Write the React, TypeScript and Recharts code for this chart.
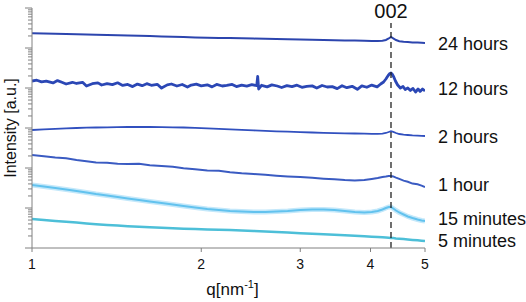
import React from 'react';
import { LineChart, Line, XAxis, YAxis, ReferenceLine, Label } from 'recharts';

const FONT = '"Liberation Sans", Arial, Helvetica, sans-serif';

// q values [nm^-1] shared by the smooth curves
const Q = [
  1.0, 1.05, 1.1, 1.15, 1.2, 1.25, 1.3, 1.36, 1.42, 1.48,
  1.55, 1.62, 1.7, 1.78, 1.86, 1.95, 2.05, 2.15, 2.25, 2.36,
  2.48, 2.6, 2.72, 2.85, 3.0, 3.15, 3.3, 3.45, 3.6, 3.75,
  3.9, 4.02, 4.12, 4.2, 4.26, 4.31, 4.35, 4.39, 4.44, 4.5,
  4.58, 4.66, 4.75, 4.85, 4.93, 5.0,
];

// q values for the noisy 12 hours curve
const Q12 = [
  1.0, 1.02, 1.04, 1.06, 1.09, 1.11, 1.13, 1.15, 1.18, 1.2,
  1.23, 1.25, 1.28, 1.31, 1.33, 1.36, 1.39, 1.42, 1.45, 1.48,
  1.51, 1.54, 1.57, 1.6, 1.63, 1.67, 1.7, 1.74, 1.77, 1.81,
  1.85, 1.89, 1.92, 1.96, 2.0, 2.05, 2.09, 2.13, 2.18, 2.22,
  2.27, 2.31, 2.36, 2.41, 2.46, 2.51, 2.52, 2.53, 2.56, 2.62,
  2.67, 2.73, 2.78, 2.84, 2.9, 2.96, 3.02, 3.08, 3.15, 3.21,
  3.28, 3.35, 3.42, 3.49, 3.56, 3.63, 3.71, 3.79, 3.86, 3.94,
  4.02, 4.11, 4.17, 4.22, 4.26, 4.3, 4.33, 4.35, 4.37, 4.4,
  4.43, 4.47, 4.52, 4.57, 4.61, 4.66, 4.71, 4.76, 4.81, 4.86,
  4.9, 4.95, 5.0,
];

// log10 of intensity (a.u., curves offset for display)
const LOG_24H = [
  5.368, 5.363, 5.355, 5.35, 5.343, 5.338, 5.33, 5.325, 5.32, 5.313,
  5.305, 5.298, 5.29, 5.283, 5.275, 5.265, 5.258, 5.253, 5.248, 5.243,
  5.235, 5.23, 5.223, 5.218, 5.21, 5.205, 5.2, 5.195, 5.19, 5.185,
  5.18, 5.178, 5.175, 5.18, 5.2, 5.238, 5.275, 5.243, 5.2, 5.17,
  5.155, 5.148, 5.14, 5.135, 5.13, 5.125,
];

const LOG_12H = [
  4.175, 4.195, 4.153, 4.173, 4.128, 4.185, 4.143, 4.1, 4.143, 4.113,
  4.143, 4.05, 4.108, 4.128, 4.075, 4.11, 4.083, 4.13, 4.065, 4.088,
  4.035, 4.098, 4.058, 4.108, 4.068, 4.093, 3.998, 4.078, 4.1, 4.05,
  4.088, 4.023, 4.073, 4.095, 4.055, 4.08, 4.028, 4.09, 4.05, 4.063,
  4.088, 4.035, 4.073, 4.048, 4.083, 4.058, 4.288, 3.975, 4.068, 4.028,
  4.078, 4.05, 4.013, 4.06, 4.033, 4.07, 4.018, 4.043, 4.053, 3.998,
  4.063, 4.025, 4.035, 3.985, 4.058, 4.008, 4.043, 3.968, 4.055, 4.018,
  4.073, 4.03, 4.1, 4.15, 4.225, 4.313, 4.363, 4.375, 4.35, 4.275,
  4.175, 4.075, 4.0, 4.038, 3.963, 4.0, 3.938, 3.988, 3.9, 3.975,
  3.913, 3.975, 3.925,
];

const LOG_2H = [
  2.95, 2.968, 2.98, 2.993, 3.0, 3.008, 3.013, 3.018, 3.023, 3.025,
  3.025, 3.025, 3.023, 3.018, 3.013, 3.003, 2.993, 2.98, 2.968, 2.953,
  2.94, 2.928, 2.918, 2.908, 2.898, 2.888, 2.88, 2.873, 2.868, 2.863,
  2.858, 2.855, 2.855, 2.86, 2.875, 2.9, 2.92, 2.905, 2.875, 2.85,
  2.835, 2.825, 2.815, 2.808, 2.803, 2.8,
];

const LOG_1H = [
  2.325, 2.295, 2.263, 2.245, 2.2, 2.168, 2.138, 2.13, 2.105, 2.1,
  2.108, 2.07, 2.05, 2.03, 1.995, 1.968, 1.935, 1.93, 1.895, 1.868,
  1.85, 1.83, 1.808, 1.79, 1.772, 1.755, 1.733, 1.716, 1.697, 1.69,
  1.698, 1.727, 1.748, 1.776, 1.786, 1.8, 1.8, 1.79, 1.76, 1.728,
  1.685, 1.655, 1.61, 1.592, 1.56, 1.525,
];

const LOG_15M = [
  1.575, 1.538, 1.5, 1.463, 1.425, 1.388, 1.35, 1.313, 1.275, 1.238,
  1.2, 1.163, 1.125, 1.088, 1.05, 1.013, 0.975, 0.95, 0.925, 0.913,
  0.9, 0.9, 0.913, 0.925, 0.95, 0.963, 0.963, 0.95, 0.925, 0.9,
  0.888, 0.9, 0.925, 0.963, 1.0, 1.025, 1.025, 0.988, 0.938, 0.888,
  0.838, 0.788, 0.75, 0.713, 0.688, 0.675,
];

const LOG_5M = [
  0.725, 0.7, 0.675, 0.655, 0.635, 0.615, 0.595, 0.575, 0.56, 0.545,
  0.53, 0.518, 0.505, 0.493, 0.483, 0.473, 0.463, 0.455, 0.448, 0.438,
  0.425, 0.413, 0.4, 0.385, 0.37, 0.355, 0.343, 0.33, 0.318, 0.305,
  0.293, 0.283, 0.275, 0.268, 0.263, 0.258, 0.253, 0.248, 0.24, 0.233,
  0.223, 0.213, 0.203, 0.193, 0.183, 0.175,
];

const SERIES_LABELS = ['24 hours', '12 hours', '2 hours', '1 hour', '15 minutes', '5 minutes'];
const X_TICKS = [1, 2, 3, 4, 5];
const Y_DECADES = [1, 10, 100, 1000, 10000, 100000, 1000000];
const Y_MINOR_MULT = [2, 3, 4, 5, 6, 7, 8, 9];
const PEAK_Q = 4.35;
const PEAK_LABEL = '002';
const PEAK_TOP = 420000;

const toRows = (qs: number[], logs: number[]) => qs.map((q, i) => ({ q, v: Math.pow(10, logs[i]) }));

const D24 = toRows(Q, LOG_24H);
const D12 = toRows(Q12, LOG_12H);
const D2 = toRows(Q, LOG_2H);
const D1 = toRows(Q, LOG_1H);
const D15 = toRows(Q, LOG_15M);
const D5 = toRows(Q, LOG_5M);

const Y_TICKS: number[] = [];
Y_DECADES.forEach((d, i) => {
  Y_TICKS.push(d);
  if (i < Y_DECADES.length - 1) Y_MINOR_MULT.forEach((m) => Y_TICKS.push(d * m));
});

const YTick = (props: any) => {
  const { x, y, payload } = props;
  const lg = Math.log10(payload.value);
  const major = Math.abs(lg - Math.round(lg)) < 1e-6;
  const len = major ? 7 : 4;
  return <line x1={x} x2={x - len} y1={y} y2={y} stroke="#808080" strokeWidth={1} />;
};

const endLabel = (text: string, count: number, dy: number) => (props: any) => {
  if (props.index !== count - 1) return <g />;
  const x = props.x ?? props.viewBox?.x;
  const y = props.y ?? props.viewBox?.y;
  return (
    <text x={x + 13} y={y + dy} fontSize={18} fontFamily={FONT} fill="#111" dominantBaseline="central">
      {text}
    </text>
  );
};

export default function App() {
  return (
    <div style={{ position: 'absolute', left: 0, top: 0, background: '#fff' }}>
      <LineChart width={526} height={302} margin={{ top: 8, right: 101, bottom: 0, left: 0 }}>
        <XAxis
          dataKey="q"
          type="number"
          scale="log"
          domain={[1, 5]}
          allowDataOverflow
          ticks={X_TICKS}
          interval={0}
          height={54}
          tickSize={4}
          tickMargin={7}
          stroke="#808080"
          tick={{ fill: '#111', fontSize: 14, fontFamily: FONT }}
        >
          <Label
            content={(p: any) => {
              const vb = p.viewBox;
              return (
                <text x={vb.x + vb.width / 2 + 4} y={295} textAnchor="middle" fontSize={17} fontFamily={FONT} fill="#111">
                  <tspan>q[nm</tspan>
                  <tspan fontSize={11} dy={-7}>-1</tspan>
                  <tspan dy={7}>]</tspan>
                </text>
              );
            }}
          />
        </XAxis>
        <YAxis
          type="number"
          scale="log"
          domain={[1, 1000000]}
          allowDataOverflow
          ticks={Y_TICKS}
          interval={0}
          width={32}
          tickSize={0}
          tickMargin={0}
          tickLine={false}
          stroke="#808080"
          tick={<YTick />}
        >
          <Label
            content={(p: any) => {
              const vb = p.viewBox;
              const cx = vb.x + 10;
              const cy = vb.y + vb.height / 2;
              return (
                <text
                  x={cx}
                  y={cy}
                  transform={`rotate(-90 ${cx} ${cy})`}
                  textAnchor="middle"
                  dominantBaseline="central"
                  fontSize={16}
                  fontFamily={FONT}
                  fill="#111"
                >
                  Intensity [a.u.]
                </text>
              );
            }}
          />
        </YAxis>

        <Line data={D5} dataKey="v" stroke="#4dbfd8" strokeWidth={2.5} dot={false} activeDot={false} isAnimationActive={false} label={endLabel(SERIES_LABELS[5], D5.length, 0)} />
        <Line data={D15} dataKey="v" stroke="#c4e8fa" strokeWidth={5} dot={false} activeDot={false} isAnimationActive={false} />
        <Line data={D15} dataKey="v" stroke="#62c2ee" strokeWidth={2} dot={false} activeDot={false} isAnimationActive={false} label={endLabel(SERIES_LABELS[4], D15.length, -2)} />
        <Line data={D1} dataKey="v" stroke="#3a5bc2" strokeWidth={2} dot={false} activeDot={false} isAnimationActive={false} label={endLabel(SERIES_LABELS[3], D1.length, -2.5)} />
        <Line data={D2} dataKey="v" stroke="#3150bf" strokeWidth={1.8} dot={false} activeDot={false} isAnimationActive={false} label={endLabel(SERIES_LABELS[2], D2.length, 1)} />
        <Line data={D12} dataKey="v" stroke="#2b47b5" strokeWidth={2.8} strokeLinejoin="round" dot={false} activeDot={false} isAnimationActive={false} label={endLabel(SERIES_LABELS[1], D12.length, -2)} />
        <Line data={D24} dataKey="v" stroke="#2c45ae" strokeWidth={2} dot={false} activeDot={false} isAnimationActive={false} label={endLabel(SERIES_LABELS[0], D24.length, 0.5)} />

        <ReferenceLine
          segment={[{ x: PEAK_Q, y: 1 }, { x: PEAK_Q, y: PEAK_TOP }]}
          stroke="#222"
          strokeWidth={1.3}
          strokeDasharray="6 4"
          label={{ value: PEAK_LABEL, position: 'top', fontSize: 20, fill: '#111', fontFamily: FONT, offset: 5 }}
        />
      </LineChart>
    </div>
  );
}
